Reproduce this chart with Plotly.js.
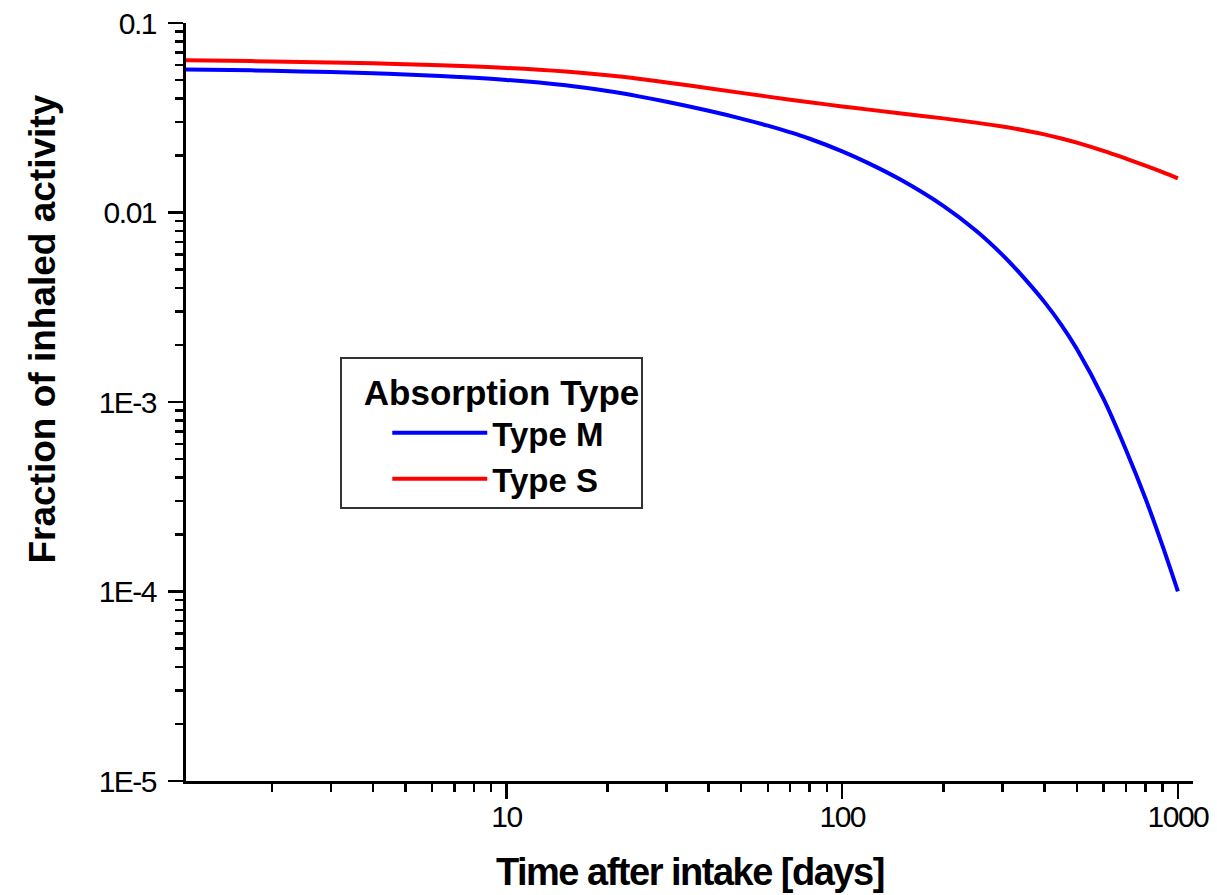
<!DOCTYPE html>
<html>
<head>
<meta charset="utf-8">
<script src="https://cdn.plot.ly/plotly-3.0.1.min.js"></script>
<style>
  html, body { margin: 0; padding: 0; background: #fff; }
  #chart { width: 1217px; height: 895px; }
  .xtick text, .ytick text { letter-spacing: -1.5px; }
  .annotation[data-index="0"] text { letter-spacing: -1.5px; }
</style>
</head>
<body>
<div id="chart"></div>
<script>
// Time after intake [days]
const days = [1, 1.5, 2, 3, 4, 5, 7, 10, 15, 20, 25, 30, 40, 50, 60, 70, 80, 100, 120, 150, 200, 250, 300, 350, 400, 450, 500, 600, 700, 800, 900, 1000];
// Fraction of inhaled activity, absorption Type M
const typeM = [0.05699, 0.05647, 0.05597, 0.05506, 0.05423, 0.05345, 0.05200, 0.05008, 0.04689, 0.04373, 0.04087, 0.03840, 0.03442, 0.03131, 0.02872, 0.02649, 0.02450, 0.02102, 0.01817, 0.01483, 0.01084, 0.008037, 0.005980, 0.004466, 0.003376, 0.002548, 0.001905, 0.001042, 0.0005601, 0.0003105, 0.0001741, 0.0001002];
// Fraction of inhaled activity, absorption Type S
const typeS = [0.06378, 0.06318, 0.06268, 0.06188, 0.06123, 0.06060, 0.05942, 0.05791, 0.05543, 0.05298, 0.05067, 0.04857, 0.04528, 0.04278, 0.04088, 0.03939, 0.03817, 0.03630, 0.03490, 0.03330, 0.03138, 0.02981, 0.02841, 0.02710, 0.02585, 0.02459, 0.02336, 0.02114, 0.01925, 0.01768, 0.01635, 0.01515];

const seriesNames = ['Type M', 'Type S'];
const legendTitle = 'Absorption Type';
const xTitle = 'Time after intake [days]';
const yTitle = 'Fraction of inhaled activity';

const yTickVals = [0.1, 0.01, 0.001, 0.0001, 0.00001];
const yTickText = ['0.1', '0.01', '1E-3', '1E-4', '1E-5'];
const xTickVals = [10, 100, 1000];
const xTickText = ['10', '100', '1000'];

const FONT = 'Liberation Sans, Arial, sans-serif';

const traces = [
  { x: days, y: typeM, name: seriesNames[0], type: 'scatter', mode: 'lines',
    line: { color: '#0000ff', width: 4, shape: 'spline', smoothing: 1 } },
  { x: days, y: typeS, name: seriesNames[1], type: 'scatter', mode: 'lines',
    line: { color: '#ff0000', width: 4, shape: 'spline', smoothing: 1 } }
];

const axisCommon = {
  type: 'log',
  showgrid: false,
  zeroline: false,
  showline: true,
  linecolor: '#000',
  linewidth: 3,
  ticks: 'outside',
  ticklen: 15,
  tickwidth: 2.5,
  tickcolor: '#000',
  tickmode: 'array',
  tickfont: { family: FONT, size: 30, color: '#000' },
  minor: { dtick: 'D1', ticks: 'outside', ticklen: 8, tickwidth: 2.5, tickcolor: '#000', showgrid: false },
  mirror: false
};

const layout = {
  width: 1217,
  height: 895,
  margin: { l: 185.7, r: 24.3, t: 22.7, b: 114.3, pad: 0 },
  paper_bgcolor: '#fff',
  plot_bgcolor: '#fff',
  showlegend: true,
  xaxis: Object.assign({}, axisCommon, {
    range: [0.045, 3.045],
    tickvals: xTickVals,
    ticktext: xTickText,
    ticklabelstandoff: -8
  }),
  yaxis: Object.assign({}, axisCommon, {
    range: [-5, -1],
    tickvals: yTickVals,
    ticktext: yTickText,
    ticklabelstandoff: 6
  }),
  legend: {
    x: 0.1532, y: 0.559, xanchor: 'left', yanchor: 'top',
    bgcolor: '#fff', bordercolor: '#333', borderwidth: 2,
    font: { family: FONT, size: 33, color: '#000', weight: 'bold' },
    title: { text: '\u00a0\u00a0' + legendTitle, side: 'top center', font: { family: FONT, size: 35, color: '#000', weight: 'bold' } },
    itemwidth: 95,
    indentation: 45,
    tracegroupgap: 0
  },
  annotations: [
    { text: xTitle, xref: 'paper', yref: 'paper', x: 0.5, y: -0.12, xanchor: 'center', yanchor: 'middle',
      showarrow: false, font: { family: FONT, size: 38, color: '#000', weight: 'bold' } },
    { text: yTitle, xref: 'paper', yref: 'paper', x: -0.1427, y: 0.596, xanchor: 'center', yanchor: 'middle',
      textangle: -90, showarrow: false, font: { family: FONT, size: 37, color: '#000', weight: 'bold' } }
  ]
};

Plotly.newPlot('chart', traces, layout, { staticPlot: true, displayModeBar: false });
</script>
</body>
</html>
